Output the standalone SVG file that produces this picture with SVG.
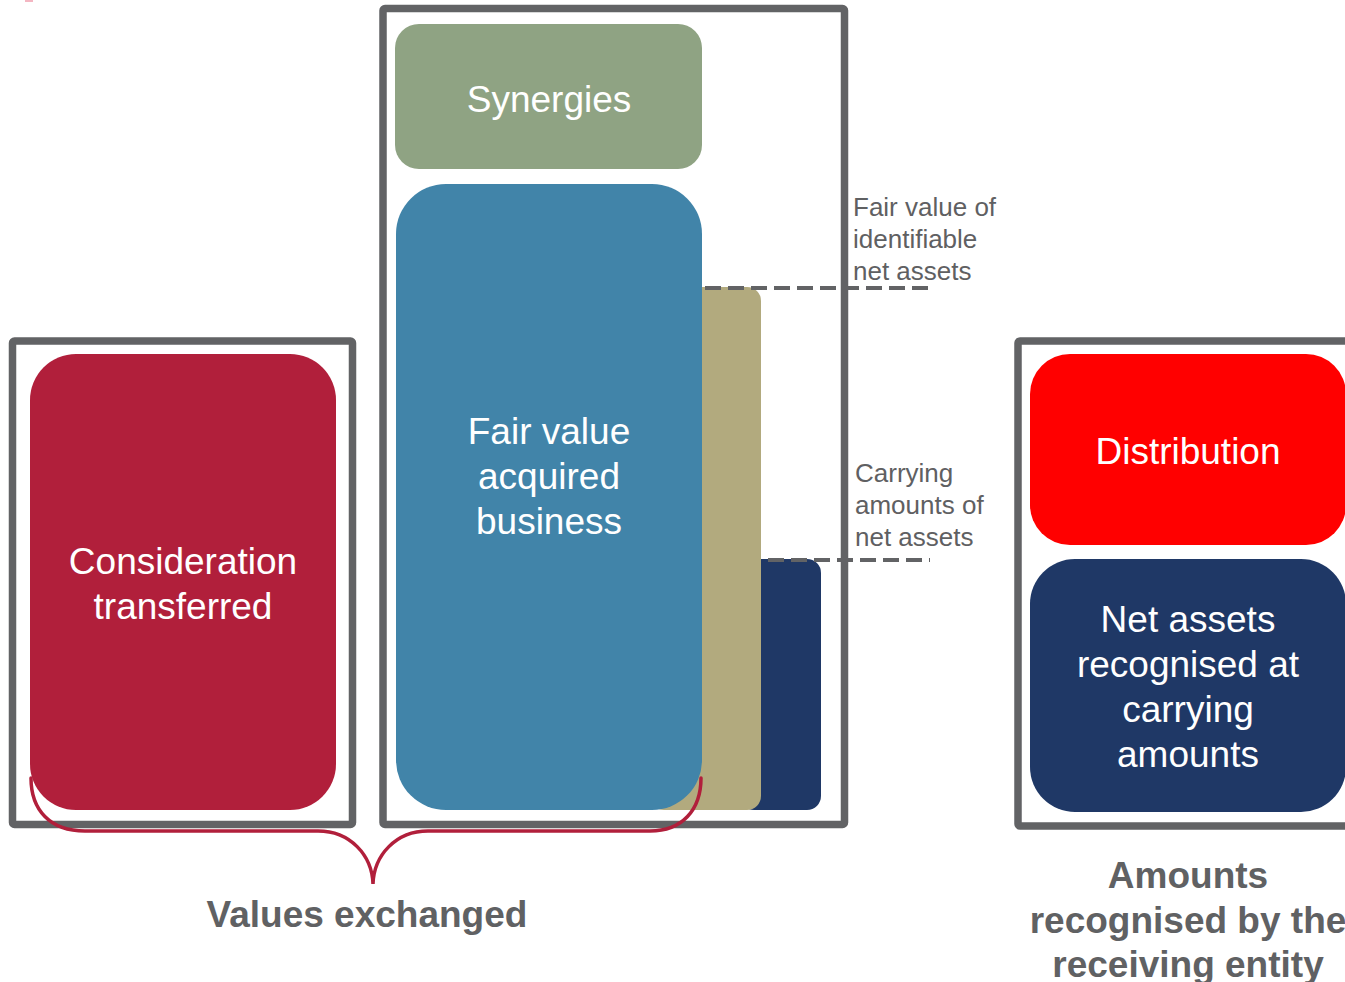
<svg xmlns="http://www.w3.org/2000/svg" width="1345" height="982" viewBox="0 0 1345 982">
<style>
.frame{fill:none;stroke:#626365;stroke-width:7.5}
.wt{fill:#ffffff;font-family:"Liberation Sans",Arial,sans-serif;font-size:37px;text-anchor:middle}
.lbl{fill:#5f6062;font-family:"Liberation Sans",Arial,sans-serif;font-size:26px}
.bt{fill:#606163;font-family:"Liberation Sans",Arial,sans-serif;font-size:37px;font-weight:bold;text-anchor:middle}
.dash{fill:none;stroke:#626365;stroke-width:4;stroke-dasharray:16 7}
</style>
<rect x="0" y="0" width="1345" height="982" fill="#ffffff"/>
<rect x="25" y="0" width="8" height="2" fill="#f4b6c2"/>
<g id="frame-left"><rect class="frame" x="12.5" y="341" width="340" height="483.5" rx="2"/></g>
<g id="frame-middle"><rect class="frame" x="383" y="8.5" width="461.5" height="816" rx="2"/></g>
<g id="frame-right"><rect class="frame" x="1018" y="341" width="400" height="485" rx="2"/></g>
<g id="consideration">
<rect x="30" y="354" width="306" height="456" rx="46" fill="#b11f3b"/>
<text class="wt" x="183" y="574">Consideration</text>
<text class="wt" x="183" y="619">transferred</text>
</g>
<g id="synergies">
<rect x="395" y="24" width="307" height="145" rx="24" fill="#8fa383"/>
<text class="wt" x="549" y="112">Synergies</text>
</g>
<g id="carrying-bar"><rect x="740" y="559" width="81" height="251" rx="14" fill="#1f3866"/></g>
<g id="fv-net-assets-bar"><rect x="650" y="287" width="111" height="523" rx="14" fill="#b2aa7e"/></g>
<g id="fair-value">
<rect x="396" y="184" width="306" height="626" rx="50" fill="#4184a9"/>
<text class="wt" x="549" y="444">Fair value</text>
<text class="wt" x="549" y="489">acquired</text>
<text class="wt" x="549" y="534">business</text>
</g>
<g id="distribution">
<rect x="1030" y="354" width="316" height="191" rx="40" fill="#ff0000"/>
<text class="wt" x="1188" y="464">Distribution</text>
</g>
<g id="net-assets">
<rect x="1030" y="559" width="316" height="253" rx="45" fill="#1f3866"/>
<text class="wt" x="1188" y="632">Net assets</text>
<text class="wt" x="1188" y="677">recognised at</text>
<text class="wt" x="1188" y="722">carrying</text>
<text class="wt" x="1188" y="767">amounts</text>
</g>
<g id="connectors">
<line class="dash" x1="705" y1="288" x2="930" y2="288"/>
<line class="dash" x1="768" y1="560" x2="930" y2="560"/>
<path d="M31,778 C31,810 50,831 85,831 L318,831 C350,831 372,855 373,884 C374,855 396,831 428,831 L650,831 C682,831 701,810 701,778" fill="none" stroke="#b11f3b" stroke-width="3.5" stroke-linecap="round"/>
</g>
<g id="label-fair-value">
<text class="lbl" x="853" y="216">Fair value of</text>
<text class="lbl" x="853" y="248">identifiable</text>
<text class="lbl" x="853" y="280">net assets</text>
</g>
<g id="label-carrying">
<text class="lbl" x="855" y="482">Carrying</text>
<text class="lbl" x="855" y="514">amounts of</text>
<text class="lbl" x="855" y="546">net assets</text>
</g>
<g id="values-exchanged"><text class="bt" x="367" y="927">Values exchanged</text></g>
<g id="amounts-recognised">
<text class="bt" x="1188" y="888">Amounts</text>
<text class="bt" x="1188" y="933">recognised by the</text>
<text class="bt" x="1188" y="977">receiving entity</text>
</g>
</svg>
